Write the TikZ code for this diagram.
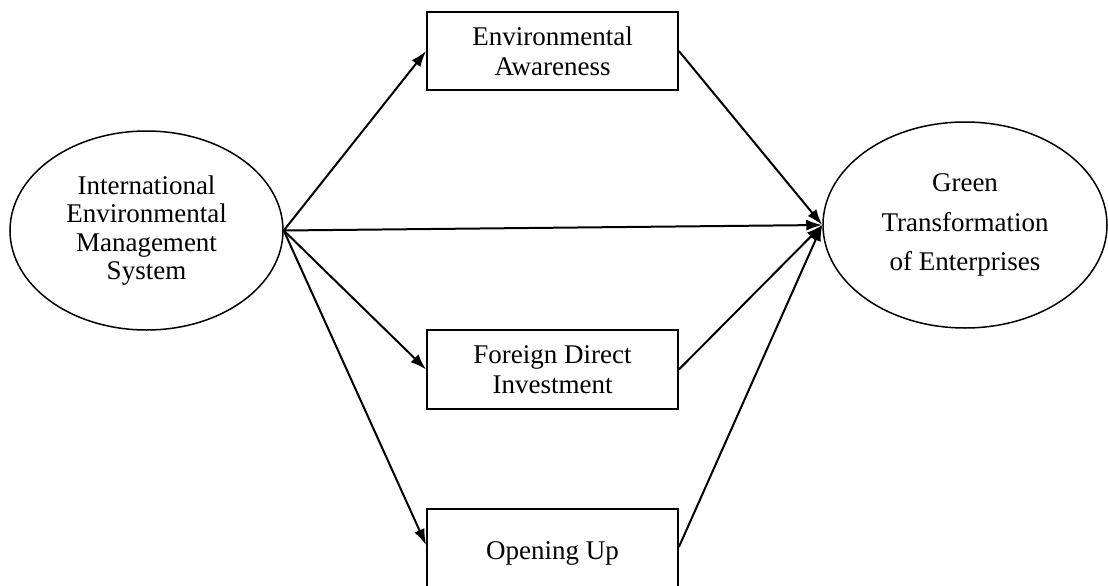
\documentclass[tikz,border=0pt]{standalone}
\usepackage{fontspec}
\setmainfont{Liberation Serif}
\usetikzlibrary{arrows.meta,shapes.geometric}
\begin{document}
\begin{tikzpicture}[x=1pt,y=-1pt,
  ell/.style={draw, ellipse, line width=1.5pt, inner sep=0pt, align=center},
  boxnode/.style={draw, rectangle, line width=1.8pt, inner sep=0pt, align=center,
    minimum width=251pt, font=\fontsize{27}{30}\selectfont},
  conn/.style={line width=2pt, -{Latex[length=16pt,width=11pt]}}]
\useasboundingbox (0,0) rectangle (1108,586);
\clip (0,0) rectangle (1108,586);
\node[ell, minimum width=273pt, minimum height=199pt, font=\fontsize{27}{28.5}\selectfont]
  (iems) at (146.5,230.5) {International\\Environmental\\Management\\System};
\node[ell, minimum width=284pt, minimum height=206pt, font=\fontsize{27}{39.5}\selectfont]
  (gte) at (965,225) {Green\\Transformation\\of Enterprises};
\node[boxnode, minimum height=78pt] (ea) at (552.5,51) {Environmental\\Awareness};
\node[boxnode, minimum height=79pt] (fdi) at (552.5,369.5) {Foreign Direct\\Investment};
\node[boxnode, minimum height=88pt] (ou) at (552.5,553) {Opening Up};
\draw[conn] (iems.east) -- (ea.west);
\draw[conn] (iems.east) -- (gte.west);
\draw[conn] (iems.east) -- (fdi.west);
\draw[conn] (iems.east) -- ([yshift=8pt]ou.west);
\draw[conn] (ea.east) -- (gte.west);
\draw[conn] (fdi.east) -- (gte.west);
\draw[conn] ([yshift=6pt]ou.east) -- (gte.west);
\end{tikzpicture}
\end{document}
